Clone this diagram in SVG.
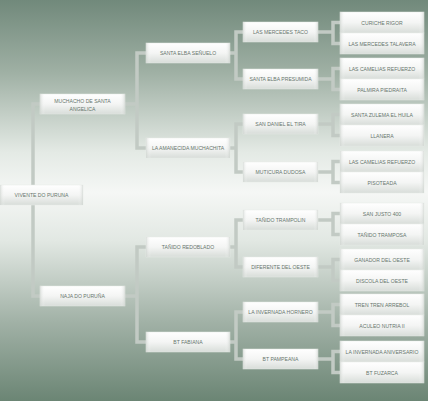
<svg xmlns="http://www.w3.org/2000/svg" width="428" height="401" viewBox="0 0 428 401">
<defs>
<linearGradient id="bg" x1="0" y1="0" x2="0" y2="1">
<stop offset="0" stop-color="#71897b"/>
<stop offset="0.18" stop-color="#9fb0a4"/>
<stop offset="0.38" stop-color="#e4eae5"/>
<stop offset="0.48" stop-color="#f5f7f5"/>
<stop offset="0.6" stop-color="#e2e8e3"/>
<stop offset="0.8" stop-color="#a2b2a7"/>
<stop offset="1" stop-color="#6b8574"/>
</linearGradient>
<linearGradient id="box" x1="0" y1="0" x2="0" y2="1">
<stop offset="0" stop-color="#ffffff"/>
<stop offset="0.5" stop-color="#f4f5f4"/>
<stop offset="1" stop-color="#d8ddd9"/>
</linearGradient>
<linearGradient id="edge" x1="0" y1="0" x2="1" y2="0">
<stop offset="0" stop-color="#c9cfca" stop-opacity="0.6"/>
<stop offset="0.06" stop-color="#ffffff" stop-opacity="0"/>
<stop offset="0.94" stop-color="#ffffff" stop-opacity="0"/>
<stop offset="1" stop-color="#c9cfca" stop-opacity="0.6"/>
</linearGradient>
</defs>
<style>
.b{fill:url(#box);stroke:#e6e9e6;stroke-width:0.5}
.e{fill:url(#edge)}
.t{font-family:"Liberation Sans",Arial,sans-serif;font-size:5.1px;fill:#66756c;text-anchor:middle}
.c{fill:none;stroke:#c2cac4;stroke-width:3.5}
</style>
<rect width="428" height="401" fill="url(#bg)"/>
<g id="connectors">
<path class="c" d="M40,104H33V296H40"/>
<path class="c" d="M125,104H137M146,53H137V148H146"/>
<path class="c" d="M125,296H137M146,247H137V342H146"/>
<path class="c" d="M230,53H236M243,32H236V79H243"/>
<path class="c" d="M230,148H236M243,124H236V172H243"/>
<path class="c" d="M230,247H236M243,220H236V267H243"/>
<path class="c" d="M230,342H236M243,312H236V359H243"/>
<path class="c" d="M318,32H333M340,22.5H333V43.5H340"/>
<path class="c" d="M318,79H333M340,68.5H333V89.5H340"/>
<path class="c" d="M318,124H333M340,114.5H333V135.5H340"/>
<path class="c" d="M318,172H333M340,161.5H333V182.5H340"/>
<path class="c" d="M318,220H333M340,213.5H333V234.5H340"/>
<path class="c" d="M318,267H333M340,259.5H333V280.5H340"/>
<path class="c" d="M318,312H333M340,304.5H333V325.5H340"/>
<path class="c" d="M318,359H333M340,351.5H333V372.5H340"/>
</g>
<g id="n0"><rect class="b" x="0" y="185" width="83" height="20"/><rect class="e" x="0" y="185" width="83" height="20"/><text class="t" x="41.5" y="197">VIVENTE DO PURUNA</text></g>
<g id="n1"><rect class="b" x="40" y="94" width="85" height="20"/><rect class="e" x="40" y="94" width="85" height="20"/><text class="t" x="82.5" y="102.5">MUCHACHO DE SANTA</text><text class="t" x="82.5" y="110.5">ANGELICA</text></g>
<g id="n2"><rect class="b" x="40" y="286" width="85" height="20"/><rect class="e" x="40" y="286" width="85" height="20"/><text class="t" x="82.5" y="298">NAJA DO PURUÑA</text></g>
<g id="n3"><rect class="b" x="146" y="43" width="84" height="20"/><rect class="e" x="146" y="43" width="84" height="20"/><text class="t" x="188" y="55">SANTA ELBA SEÑUELO</text></g>
<g id="n4"><rect class="b" x="146" y="138" width="84" height="20"/><rect class="e" x="146" y="138" width="84" height="20"/><text class="t" x="188" y="150">LA AMANECIDA MUCHACHITA</text></g>
<g id="n5"><rect class="b" x="146" y="237" width="84" height="20"/><rect class="e" x="146" y="237" width="84" height="20"/><text class="t" x="188" y="249">TAÑIDO REDOBLADO</text></g>
<g id="n6"><rect class="b" x="146" y="332" width="84" height="20"/><rect class="e" x="146" y="332" width="84" height="20"/><text class="t" x="188" y="344">BT FABIANA</text></g>
<g id="n7"><rect class="b" x="243" y="22" width="75" height="20"/><rect class="e" x="243" y="22" width="75" height="20"/><text class="t" x="280.5" y="34">LAS MERCEDES TACO</text></g>
<g id="n8"><rect class="b" x="243" y="69" width="75" height="20"/><rect class="e" x="243" y="69" width="75" height="20"/><text class="t" x="280.5" y="81">SANTA ELBA PRESUMIDA</text></g>
<g id="n9"><rect class="b" x="243" y="114" width="75" height="20"/><rect class="e" x="243" y="114" width="75" height="20"/><text class="t" x="280.5" y="126">SAN DANIEL EL TIRA</text></g>
<g id="n10"><rect class="b" x="243" y="162" width="75" height="20"/><rect class="e" x="243" y="162" width="75" height="20"/><text class="t" x="280.5" y="174">MUTICURA DUDOSA</text></g>
<g id="n11"><rect class="b" x="243" y="210" width="75" height="20"/><rect class="e" x="243" y="210" width="75" height="20"/><text class="t" x="280.5" y="222">TAÑIDO TRAMPOLIN</text></g>
<g id="n12"><rect class="b" x="243" y="257" width="75" height="20"/><rect class="e" x="243" y="257" width="75" height="20"/><text class="t" x="280.5" y="269">DIFERENTE DEL OESTE</text></g>
<g id="n13"><rect class="b" x="243" y="302" width="75" height="20"/><rect class="e" x="243" y="302" width="75" height="20"/><text class="t" x="280.5" y="314">LA INVERNADA HORNERO</text></g>
<g id="n14"><rect class="b" x="243" y="349" width="75" height="20"/><rect class="e" x="243" y="349" width="75" height="20"/><text class="t" x="280.5" y="361">BT PAMPEANA</text></g>
<g id="n15"><rect class="b" x="340" y="12" width="84" height="21"/><rect class="e" x="340" y="12" width="84" height="21"/><text class="t" x="382" y="24.5">CURICHE RIGOR</text></g>
<g id="n16"><rect class="b" x="340" y="33" width="84" height="21"/><rect class="e" x="340" y="33" width="84" height="21"/><text class="t" x="382" y="45.5">LAS MERCEDES TALAVERA</text></g>
<g id="n17"><rect class="b" x="340" y="58" width="84" height="21"/><rect class="e" x="340" y="58" width="84" height="21"/><text class="t" x="382" y="70.5">LAS CAMELIAS REFUERZO</text></g>
<g id="n18"><rect class="b" x="340" y="79" width="84" height="21"/><rect class="e" x="340" y="79" width="84" height="21"/><text class="t" x="382" y="91.5">PALMIRA PIEDRAITA</text></g>
<g id="n19"><rect class="b" x="340" y="104" width="84" height="21"/><rect class="e" x="340" y="104" width="84" height="21"/><text class="t" x="382" y="116.5">SANTA ZULEMA EL HUILA</text></g>
<g id="n20"><rect class="b" x="340" y="125" width="84" height="21"/><rect class="e" x="340" y="125" width="84" height="21"/><text class="t" x="382" y="137.5">LLANERA</text></g>
<g id="n21"><rect class="b" x="340" y="151" width="84" height="21"/><rect class="e" x="340" y="151" width="84" height="21"/><text class="t" x="382" y="163.5">LAS CAMELIAS REFUERZO</text></g>
<g id="n22"><rect class="b" x="340" y="172" width="84" height="21"/><rect class="e" x="340" y="172" width="84" height="21"/><text class="t" x="382" y="184.5">PISOTEADA</text></g>
<g id="n23"><rect class="b" x="340" y="203" width="84" height="21"/><rect class="e" x="340" y="203" width="84" height="21"/><text class="t" x="382" y="215.5">SAN JUSTO 400</text></g>
<g id="n24"><rect class="b" x="340" y="224" width="84" height="21"/><rect class="e" x="340" y="224" width="84" height="21"/><text class="t" x="382" y="236.5">TAÑIDO TRAMPOSA</text></g>
<g id="n25"><rect class="b" x="340" y="249" width="84" height="21"/><rect class="e" x="340" y="249" width="84" height="21"/><text class="t" x="382" y="261.5">GANADOR DEL OESTE</text></g>
<g id="n26"><rect class="b" x="340" y="270" width="84" height="21"/><rect class="e" x="340" y="270" width="84" height="21"/><text class="t" x="382" y="282.5">DISCOLA DEL OESTE</text></g>
<g id="n27"><rect class="b" x="340" y="294" width="84" height="21"/><rect class="e" x="340" y="294" width="84" height="21"/><text class="t" x="382" y="306.5">TREN TREN ARREBOL</text></g>
<g id="n28"><rect class="b" x="340" y="315" width="84" height="21"/><rect class="e" x="340" y="315" width="84" height="21"/><text class="t" x="382" y="327.5">ACULEO NUTRIA II</text></g>
<g id="n29"><rect class="b" x="340" y="341" width="84" height="21"/><rect class="e" x="340" y="341" width="84" height="21"/><text class="t" x="382" y="353.5">LA INVERNADA ANIVERSARIO</text></g>
<g id="n30"><rect class="b" x="340" y="362" width="84" height="21"/><rect class="e" x="340" y="362" width="84" height="21"/><text class="t" x="382" y="374.5">BT FUZARCA</text></g>
</svg>
